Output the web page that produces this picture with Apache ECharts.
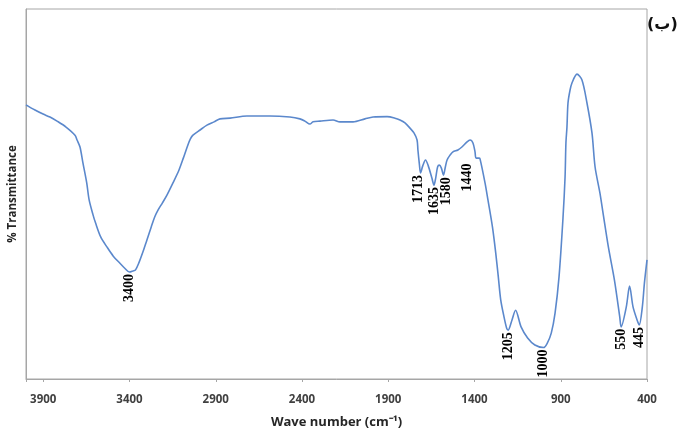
<!DOCTYPE html>
<html>
<head>
<meta charset="utf-8">
<script src="https://cdn.jsdelivr.net/npm/echarts@6/dist/echarts.min.js"></script>
<style>
  html, body { margin: 0; padding: 0; background: #fff; }
  #chart { width: 678px; height: 431px; }
</style>
</head>
<body>
<div id="chart"></div>
<script>
// FTIR spectrum: wave number (cm-1) and % transmittance
const wavenumbers = [
  4000, 3948, 3901, 3861, 3820, 3768, 3716, 3704, 3687, 3670,
  3648, 3634, 3611, 3597, 3567, 3531, 3494, 3458, 3429, 3400,
  3380, 3365, 3344, 3324, 3299, 3274, 3254, 3234, 3209, 3183,
  3148, 3113, 3088, 3062, 3047, 3032, 2991, 2951, 2910, 2875,
  2817, 2719, 2586, 2470, 2412, 2383, 2354, 2336, 2296, 2220,
  2180, 2104, 2035, 1988, 1907, 1861, 1832, 1803, 1774, 1751,
  1733, 1728, 1719, 1713, 1700, 1684, 1668, 1647, 1635, 1625,
  1614, 1604, 1592, 1580, 1569, 1559, 1542, 1525, 1496, 1473,
  1443, 1426, 1409, 1397, 1391, 1374, 1368, 1339, 1322, 1296,
  1277, 1262, 1248, 1229, 1214, 1205, 1183, 1162, 1130, 1092,
  1050, 1000, 978, 955, 933, 910, 887, 875, 870, 864,
  858, 846, 835, 806, 777, 748, 719, 701, 673, 655,
  624, 589, 558, 550, 520, 501, 481, 457, 445, 427,
  415, 400
];
const transmittance = [
  74.1, 72.7, 71.6, 70.8, 69.7, 68.1, 65.9, 64.6, 62.7, 58.4,
  53.0, 48.4, 44.3, 42.2, 38.4, 35.7, 33.2, 31.4, 30.0, 28.9,
  29.2, 29.5, 31.6, 34.1, 37.6, 41.1, 43.8, 45.7, 47.6, 49.7,
  53.0, 56.5, 59.7, 63.2, 64.9, 65.9, 67.3, 68.6, 69.5, 70.3,
  70.5, 71.1, 71.1, 70.8, 70.3, 69.7, 68.9, 69.5, 69.7, 70.0,
  69.5, 69.5, 70.3, 70.8, 70.9, 70.5, 70.0, 69.2, 67.8, 66.5,
  64.6, 61.9, 57.8, 55.7, 57.6, 59.2, 57.6, 54.3, 52.4, 54.3,
  57.3, 57.8, 57.0, 55.1, 57.3, 59.2, 60.5, 61.4, 61.9, 62.7,
  64.1, 64.6, 63.8, 61.4, 59.7, 59.7, 59.5, 53.0, 48.4, 41.1,
  34.1, 27.6, 21.4, 16.8, 13.8, 13.2, 15.9, 18.6, 14.1, 11.1,
  9.2, 8.5, 9.7, 12.4, 17.8, 27.6, 43.5, 54.6, 63.8, 68.1,
  74.6, 78.1, 80.0, 82.4, 80.8, 74.6, 66.5, 57.3, 50.3, 44.9,
  35.7, 26.8, 16.8, 14.1, 19.5, 25.1, 19.5, 15.9, 14.6, 19.5,
  25.9, 32.2
];
// Band assignments written under the spectrum
const peakLabels = [3400, 1713, 1635, 1580, 1440, 1205, 1000, 550, 445];
const xTicks = [3900, 3400, 2900, 2400, 1900, 1400, 900, 400];

// Label nudges in the rotated text frame: [along text (negative = down), across text (positive = right)]
const labelNudge = { 1713: [0, -2], 1580: [0, 3], 1440: [-20, 0] };

function valueAt(wn) {
  for (let i = 0; i < wavenumbers.length - 1; i++) {
    const a = wavenumbers[i], b = wavenumbers[i + 1];
    if (wn <= a && wn >= b) {
      const t = (a - wn) / (a - b || 1);
      return transmittance[i] + t * (transmittance[i + 1] - transmittance[i]);
    }
  }
  return transmittance[transmittance.length - 1];
}

const spectrum = wavenumbers.map((w, i) => [w, transmittance[i]]);

const markData = peakLabels.map(w => ({
  coord: [w, valueAt(w)],
  value: String(w),
  label: { offset: labelNudge[w] || [0, 0] }
}));

const chart = echarts.init(document.getElementById('chart'), null, { renderer: 'canvas' });
chart.setOption({
  animation: false,
  backgroundColor: '#ffffff',
  grid: {
    left: 26, right: 31, top: 9, bottom: 52,
    outerBoundsMode: 'none',
    containLabel: false,
    show: true, borderColor: '#a6a6a6', borderWidth: 1
  },
  title: {
    text: '(ب)',
    left: 647, top: 17,
    padding: 0,
    textStyle: { fontFamily: 'DejaVu Sans', fontWeight: 'bold', fontSize: 16, color: '#111' }
  },
  xAxis: {
    type: 'value',
    inverse: true,
    min: 400, max: 4000, interval: 500,
    name: 'Wave number (cm⁻¹)',
    nameLocation: 'middle',
    nameGap: 37,
    nameTextStyle: { fontFamily: 'Open Sans', fontWeight: 'bold', fontSize: 13, color: '#262626' },
    splitLine: { show: false },
    axisLine: { onZero: false, lineStyle: { color: '#a6a6a6', width: 1 } },
    axisTick: { show: true, inside: false, length: 3, lineStyle: { color: '#a6a6a6' } },
    axisLabel: {
      margin: 15,
      fontFamily: 'Open Sans', fontWeight: 'bold', fontSize: 11.5, color: '#404040',
      formatter: v => (xTicks.indexOf(v) >= 0 ? String(v) : '')
    }
  },
  yAxis: {
    type: 'value',
    min: 0, max: 100,
    name: '% Transmittance',
    nameLocation: 'middle',
    nameRotate: 90,
    nameGap: 7,
    nameTextStyle: { fontFamily: 'Open Sans', fontWeight: 'bold', fontSize: 11.5, color: '#262626' },
    splitLine: { show: false },
    axisLine: { show: true, lineStyle: { color: '#a6a6a6', width: 1 } },
    axisTick: { show: false },
    axisLabel: { show: false }
  },
  series: [{
    type: 'line',
    data: spectrum,
    smooth: 0.3,
    showSymbol: false,
    lineStyle: { color: '#5b88cc', width: 1.6 },
    markPoint: {
      symbol: 'circle',
      symbolSize: 0,
      itemStyle: { color: 'transparent' },
      label: {
        show: true,
        position: 'bottom',
        distance: 2,
        rotate: 90,
        align: 'right',
        verticalAlign: 'middle',
        fontFamily: 'Liberation Serif',
        fontWeight: 'bold',
        fontSize: 14,
        color: '#000',
        formatter: p => p.value
      },
      data: markData
    }
  }]
});
</script>
</body>
</html>
